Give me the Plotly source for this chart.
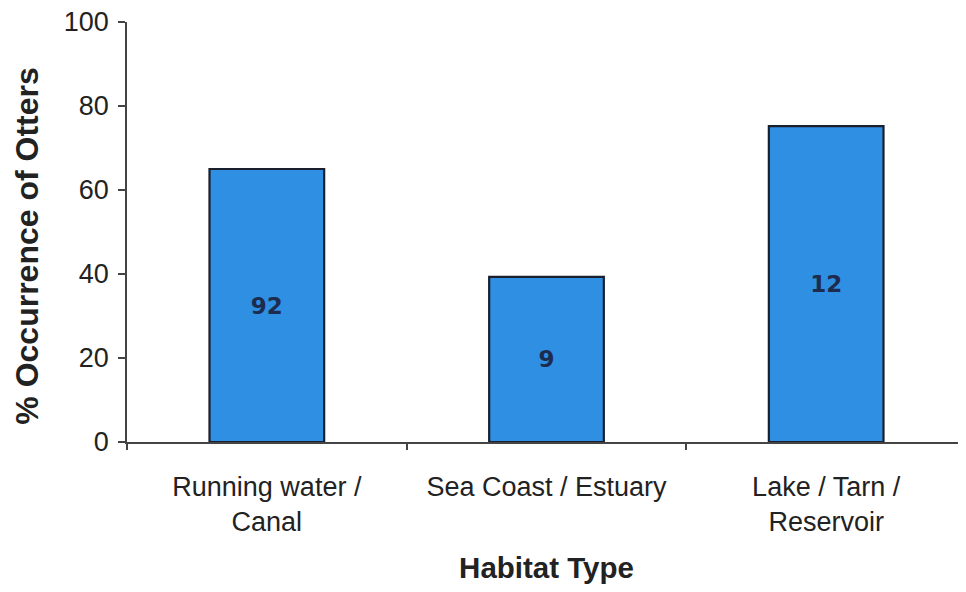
import plotly.graph_objects as go

categories = ["Running water /<br>Canal", "Sea Coast / Estuary", "Lake / Tarn /<br>Reservoir"]
occurrence = [65, 39.3, 75.2]
sample_sizes = ["92", "9", "12"]
y_ticks = [0, 20, 40, 60, 80, 100]

fig = go.Figure()
fig.add_trace(go.Bar(
    x=categories,
    y=occurrence,
    text=sample_sizes,
    textposition="inside",
    insidetextanchor="middle",
    textangle=0,
    textfont=dict(family="DejaVu Sans", size=23, color="#1d2b4f", weight="bold"),
    marker=dict(color="#2f8fe2", line=dict(color="#1a1f2e", width=2.2)),
    width=0.41,
    hoverinfo="skip",
))

# the page body has an 8px margin: offsets below compensate for it
fig.update_layout(
    width=958, height=576,
    margin=dict(l=119, r=0, t=14, b=142),
    paper_bgcolor="white",
    plot_bgcolor="white",
    showlegend=False,
    font=dict(family="Liberation Sans, Arial", color="#222222"),
    uniformtext=dict(minsize=10, mode="show"),
)
fig.add_annotation(
    text="<b>% Occurrence of Otters</b>",
    xref="paper", yref="paper", x=0, y=0.465,
    xshift=-100, xanchor="center", yanchor="middle",
    textangle=-90, showarrow=False,
    font=dict(size=32, color="#222222"),
)
fig.update_xaxes(
    range=[-0.5, 2.5],
    automargin=False,
    showline=True, linecolor="#444444", linewidth=1.6,
    ticks="outside", tickson="boundaries", ticklen=6, tickcolor="#444444", tickwidth=1.5,
    ticklabelstandoff=20,
    showgrid=False,
    tickfont=dict(size=27, color="#222222"),
    title=dict(text="<b>Habitat Type</b>", font=dict(size=29.5, color="#222222"), standoff=34),
)
fig.update_yaxes(
    range=[0, 100],
    tickvals=y_ticks,
    automargin=False,
    showline=True, linecolor="#444444", linewidth=1.6,
    ticks="outside", ticklen=7, tickcolor="#444444", tickwidth=1.5,
    ticklabelstandoff=4, ticklabeloverflow="allow",
    showgrid=False, zeroline=False,
    tickfont=dict(size=27, color="#222222"),
)

fig.write_html("out.html")
